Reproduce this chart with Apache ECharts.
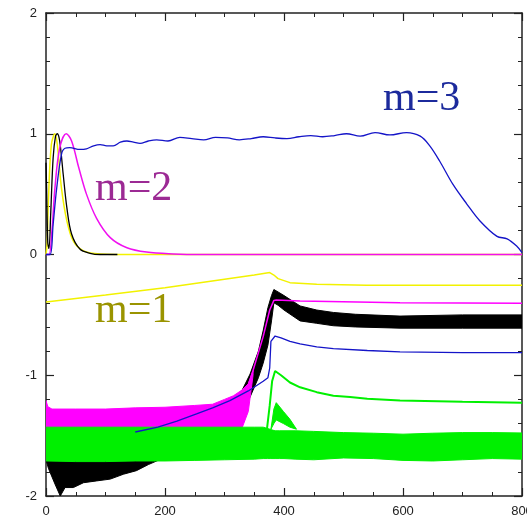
<!DOCTYPE html>
<html>
<head>
<meta charset="utf-8">
<script src="https://cdn.jsdelivr.net/npm/echarts@6/dist/echarts.min.js"></script>
<style>
  html, body { margin: 0; padding: 0; background: #fff; }
  #chart { width: 527px; height: 518px; }
</style>
</head>
<body>
<div id="chart"></div>
<script>
// ---- axis ticks ----
const xTicks = [0, 200, 400, 600, 800];
const yTicks = [-2, -1, 0, 1, 2];

// ---- upper panel curves (0..1) ----
const yellowTopX = [0, 2, 4, 9, 15, 19, 26, 35, 46, 63, 91, 150, 800];
const yellowTopY = [0, 0.1, 0.44, 0.91, 1.0, 0.91, 0.55, 0.28, 0.11, 0.03, 0.005, 0, 0];

const blackTopX = [0, 1, 3, 5, 8, 12, 16, 19, 23, 29, 35, 43, 57, 74, 91, 120];
const blackTopY = [0.76, 0.55, 0.1, 0.05, 0.35, 0.8, 0.98, 1.0, 0.94, 0.66, 0.39, 0.17, 0.045, 0.01, 0, 0];

const magentaTopX = [0, 5, 10, 15, 23, 34, 43, 55, 68, 85, 108, 136, 169, 214, 260, 800];
const magentaTopY = [0, 0, 0.2, 0.55, 0.88, 1.0, 0.94, 0.72, 0.5, 0.3, 0.14, 0.056, 0.02, 0.005, 0, 0];

const blueTopX = [0, 7, 12, 18, 26, 32, 40, 57, 68, 80, 91, 102, 113, 125, 136, 147, 158, 172, 186, 205,
  225, 245, 265, 285, 305, 325, 345, 365, 385, 405, 425, 445, 465, 485, 505, 528, 553, 578, 606,
  629, 645, 662, 684, 707, 729, 758, 775, 791, 800];
const blueTopY = [0, 0, 0.25, 0.55, 0.83, 0.88, 0.885, 0.87, 0.875, 0.9, 0.91, 0.9, 0.9, 0.93, 0.94, 0.93, 0.92, 0.94, 0.95, 0.94,
  0.97, 0.96, 0.95, 0.97, 0.965, 0.95, 0.96, 0.975, 0.965, 0.96, 0.975, 0.985, 0.975, 0.985, 1.0, 0.98, 1.01, 0.99, 1.01,
  0.98, 0.9, 0.77, 0.58, 0.42, 0.28, 0.15, 0.13, 0.07, 0.015];

// ---- lower panel ----
const yellowLowX = [0, 100, 200, 300, 350, 376, 383, 390, 410, 455, 539, 800];
const yellowLowY = [-0.393, -0.335, -0.275, -0.205, -0.17, -0.15, -0.17, -0.2, -0.233, -0.247, -0.255, -0.255];

const magentaLowX = [340, 348, 365, 376, 383, 387, 427, 595, 800];
const magentaLowY = [-1.08, -0.96, -0.68, -0.46, -0.38, -0.377, -0.385, -0.399, -0.404];

// oscillating magenta band (envelopes)
const magentaBandX = [0, 3, 10, 50, 100, 150, 200, 250, 280, 300, 315, 330, 340, 348];
const magentaBandHi = [-1.21, -1.26, -1.28, -1.28, -1.28, -1.27, -1.265, -1.25, -1.24, -1.2, -1.17, -1.12, -1.07, -0.96];
const magentaBandLo = [-1.45, -1.45, -1.45, -1.45, -1.45, -1.45, -1.45, -1.45, -1.45, -1.45, -1.45, -1.43, -1.3, -1.0];

const blueLowX = [150, 188, 220, 253, 280, 309, 340, 365, 373, 376, 378, 385, 395, 410, 427, 455, 483, 540, 595, 700, 800];
const blueLowY = [-1.47, -1.43, -1.38, -1.32, -1.27, -1.21, -1.13, -1.05, -1.02, -0.94, -0.72, -0.675, -0.69, -0.72, -0.74, -0.765, -0.78, -0.795, -0.807, -0.812, -0.813];

// oscillating black band (envelopes)
const blackBandX = [0, 4, 15, 24, 32, 46, 63, 85, 108, 130, 152, 172, 200, 250, 290, 310, 330, 343, 357, 365,
  373, 379, 383, 390, 400, 427, 455, 483, 520, 595, 700, 800];
const blackBandHi = [-1.45, -1.45, -1.45, -1.45, -1.45, -1.45, -1.45, -1.45, -1.45, -1.45, -1.45, -1.45, -1.45, -1.42, -1.32, -1.24, -1.12, -0.99, -0.8, -0.63,
  -0.44, -0.34, -0.29, -0.31, -0.34, -0.426, -0.46, -0.48, -0.495, -0.51, -0.5, -0.5];
const blackBandLo = [-1.7, -1.77, -1.9, -2.0, -1.93, -1.93, -1.89, -1.875, -1.86, -1.82, -1.79, -1.74, -1.68, -1.55, -1.45, -1.4, -1.3, -1.18, -1.02, -0.9,
  -0.75, -0.55, -0.4, -0.42, -0.46, -0.55, -0.57, -0.59, -0.6, -0.61, -0.61, -0.61];

// green: wide oscillating band
const greenBandX = [0, 50, 100, 150, 200, 250, 300, 350, 365, 372, 378, 385, 392, 400, 420, 450, 500, 550, 600, 650, 700, 750, 800];
const greenBandHi = [-1.43, -1.43, -1.43, -1.43, -1.43, -1.43, -1.43, -1.43, -1.43, -1.44, -1.45, -1.46, -1.46, -1.46, -1.46, -1.465, -1.475, -1.48, -1.488, -1.48, -1.475, -1.475, -1.478];
const greenBandLo = [-1.71, -1.715, -1.715, -1.71, -1.71, -1.705, -1.7, -1.695, -1.69, -1.69, -1.69, -1.69, -1.69, -1.69, -1.695, -1.7, -1.685, -1.69, -1.705, -1.71, -1.7, -1.69, -1.695];

// green: second (thick) transient
const green2X = [378, 383, 387, 399, 410, 421];
const green2Hi = [-1.447, -1.28, -1.227, -1.3, -1.365, -1.447];
const green2Lo = [-1.447, -1.4, -1.37, -1.4, -1.43, -1.447];

// green: upper line
const green1X = [360, 371, 376, 380, 385, 395, 410, 427, 455, 483, 511, 540, 595, 700, 800];
const green1Y = [-1.45, -1.46, -1.25, -1.05, -0.965, -1.0, -1.06, -1.1, -1.14, -1.17, -1.18, -1.195, -1.21, -1.22, -1.227];

const zip = (xs, ys) => xs.map((x, i) => [x, ys[i]]);

function lineSeries(xs, ys, color, width, smooth) {
  return {
    type: 'line',
    data: zip(xs, ys),
    showSymbol: false,
    smooth: smooth || false,
    clip: true,
    lineStyle: { color: color, width: width },
    itemStyle: { color: color },
  };
}

// band drawn as a polygon between two envelopes, through the axis scales
function bandSeries(xs, hi, lo, color) {
  return {
    type: 'custom',
    data: [[xs[0], hi[0]]],
    clip: true,
    renderItem: (params, api) => {
      const pts = [];
      xs.forEach((x, i) => pts.push(api.coord([x, hi[i]])));
      for (let i = xs.length - 1; i >= 0; i--) pts.push(api.coord([xs[i], lo[i]]));
      return {
        type: 'polygon',
        shape: { points: pts },
        style: { fill: color, stroke: color, lineWidth: 1 },
      };
    },
  };
}

const frame = '#222';
function xAxisCfg(pos, showLabel) {
  return {
    type: 'value', min: 0, max: 800, interval: 200, position: pos,
    axisLine: { show: true, onZero: false, lineStyle: { color: frame, width: 1.5 } },
    axisTick: { show: true, inside: true, length: 8, lineStyle: { color: frame, width: 1.2 } },
    minorTick: { show: true, splitNumber: 4, length: 4, lineStyle: { color: frame, width: 1 } },
    axisLabel: {
      show: showLabel, color: '#222', fontSize: 13, fontFamily: 'Liberation Sans', margin: 9,
      hideOverlap: false,
      formatter: (v) => (xTicks.includes(v) ? String(v) : ''),
    },
    splitLine: { show: false },
  };
}
function yAxisCfg(pos, showLabel) {
  return {
    type: 'value', min: -2, max: 2, interval: 1, position: pos,
    axisLine: { show: true, onZero: false, lineStyle: { color: frame, width: 1.5 } },
    axisTick: { show: true, inside: true, length: 8, lineStyle: { color: frame, width: 1.2 } },
    minorTick: { show: true, splitNumber: 5, length: 4, lineStyle: { color: frame, width: 1 } },
    axisLabel: {
      show: showLabel, color: '#222', fontSize: 13, fontFamily: 'Liberation Sans', margin: 9,
      formatter: (v) => (yTicks.includes(v) ? String(v) : ''),
    },
    splitLine: { show: false },
  };
}

const chart = echarts.init(document.getElementById('chart'));
chart.setOption({
  animation: false,
  backgroundColor: '#fff',
  grid: { left: 46, right: 5, top: 13, bottom: 22, outerBoundsMode: 'none', containLabel: false },
  xAxis: [xAxisCfg('bottom', true), xAxisCfg('top', false)],
  yAxis: [yAxisCfg('left', true), yAxisCfg('right', false)],
  series: [
    bandSeries(blackBandX, blackBandHi, blackBandLo, '#000000'),
    bandSeries(magentaBandX, magentaBandHi, magentaBandLo, '#ff00ff'),
    lineSeries(magentaLowX, magentaLowY, '#ff00ff', 1.5),
    lineSeries(blueLowX, blueLowY, '#1414c8', 1.3),
    lineSeries(yellowLowX, yellowLowY, '#f2f200', 1.5),
    bandSeries(greenBandX, greenBandHi, greenBandLo, '#00f000'),
    bandSeries(green2X, green2Hi, green2Lo, '#00f000'),
    lineSeries(green1X, green1Y, '#00f000', 2),
    lineSeries(yellowTopX, yellowTopY, '#f2f200', 1.5, 0.35),
    lineSeries(blackTopX, blackTopY, '#000000', 1.3, 0.35),
    lineSeries(magentaTopX, magentaTopY, '#f010f0', 1.5, 0.35),
    lineSeries(blueTopX, blueTopY, '#1414c8', 1.3, 0.35),
  ],
  graphic: [
    { type: 'text', x: 383, y: 99, style: { text: 'm=3', fill: '#1c2a9c', font: '42px "Liberation Serif"', verticalAlign: 'middle' } },
    { type: 'text', x: 95, y: 189, style: { text: 'm=2', fill: '#9c2a94', font: '42px "Liberation Serif"', verticalAlign: 'middle' } },
    { type: 'text', x: 95, y: 311, style: { text: 'm=1', fill: '#9a9400', font: '42px "Liberation Serif"', verticalAlign: 'middle' } },
  ],
});
</script>
</body>
</html>
